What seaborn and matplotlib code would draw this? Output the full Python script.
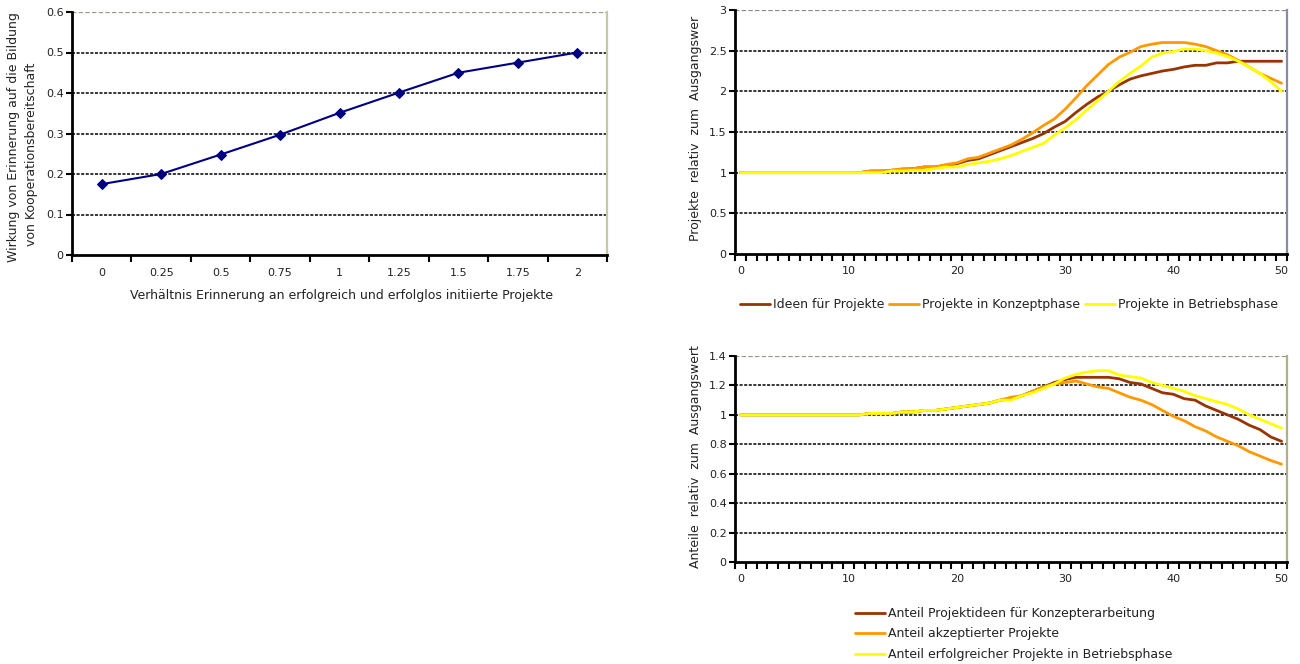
import numpy as np
import pandas as pd
import matplotlib
matplotlib.use("Agg")
import matplotlib.pyplot as plt
from matplotlib.ticker import FixedLocator, MultipleLocator
import seaborn as sns

# ---------------- data ----------------
ratio_labels = ["0", "0.25", "0.5", "0.75", "1", "1.25", "1.5", "1.75", "2"]
effect_values = [0.175, 0.200, 0.248, 0.297, 0.351, 0.401, 0.450, 0.475, 0.500]

time_steps = list(range(51))

ideen = [1.0] * 12 + [1.02, 1.02, 1.03, 1.04, 1.05, 1.07, 1.07, 1.09, 1.11, 1.15,
                      1.17, 1.22, 1.27, 1.32, 1.37, 1.42, 1.48, 1.56, 1.63, 1.74,
                      1.84, 1.93, 2.00, 2.08, 2.15, 2.19, 2.22, 2.25, 2.27, 2.30,
                      2.32, 2.32, 2.35, 2.35, 2.37, 2.37, 2.37, 2.37, 2.37]
konzept = [1.0] * 12 + [1.02, 1.02, 1.03, 1.05, 1.05, 1.07, 1.07, 1.10, 1.12, 1.17,
                        1.19, 1.24, 1.29, 1.34, 1.41, 1.49, 1.58, 1.66, 1.78, 1.92,
                        2.07, 2.20, 2.33, 2.42, 2.48, 2.55, 2.58, 2.60, 2.60, 2.60,
                        2.58, 2.55, 2.50, 2.45, 2.38, 2.30, 2.22, 2.16, 2.10]
betrieb = [1.0] * 14 + [1.02, 1.02, 1.03, 1.03, 1.05, 1.07, 1.07, 1.10, 1.12, 1.14,
                        1.17, 1.21, 1.26, 1.31, 1.36, 1.46, 1.55, 1.65, 1.77, 1.88,
                        2.00, 2.12, 2.22, 2.31, 2.42, 2.47, 2.49, 2.52, 2.52, 2.50,
                        2.47, 2.43, 2.37, 2.30, 2.22, 2.12, 2.00]

anteil_ideen = [1.0] * 12 + [1.01, 1.01, 1.01, 1.02, 1.02, 1.03, 1.03, 1.04, 1.05, 1.06,
                             1.07, 1.08, 1.10, 1.11, 1.13, 1.16, 1.19, 1.22, 1.24, 1.255,
                             1.255, 1.255, 1.255, 1.245, 1.22, 1.21, 1.18, 1.15, 1.14, 1.11,
                             1.10, 1.06, 1.03, 1.00, 0.97, 0.93, 0.90, 0.85, 0.82]
anteil_akzept = [1.0] * 12 + [1.01, 1.01, 1.01, 1.02, 1.02, 1.03, 1.03, 1.04, 1.05, 1.06,
                              1.07, 1.08, 1.10, 1.12, 1.13, 1.16, 1.19, 1.21, 1.22, 1.23,
                              1.21, 1.19, 1.18, 1.15, 1.12, 1.10, 1.07, 1.03, 0.99, 0.96,
                              0.92, 0.89, 0.85, 0.82, 0.79, 0.75, 0.72, 0.69, 0.665]
anteil_erfolg = [1.0] * 12 + [1.01, 1.01, 1.01, 1.02, 1.02, 1.03, 1.03, 1.04, 1.05, 1.06,
                              1.07, 1.08, 1.10, 1.10, 1.13, 1.15, 1.18, 1.21, 1.25, 1.275,
                              1.29, 1.30, 1.30, 1.27, 1.26, 1.25, 1.22, 1.20, 1.18, 1.16,
                              1.13, 1.11, 1.09, 1.07, 1.04, 1.00, 0.97, 0.94, 0.91]

series_top = ["Ideen für Projekte", "Projekte in Konzeptphase", "Projekte in Betriebsphase"]
series_bottom = ["Anteil Projektideen für Konzepterarbeitung", "Anteil akzeptierter Projekte",
                 "Anteil erfolgreicher Projekte in Betriebsphase"]
colors = ["#993300", "#FF9900", "#FFFF00"]

# ---------------- style ----------------
sns.set_theme(style="white")
plt.rcParams["font.family"] = ["DejaVu Sans"]
FS = 8      # tick labels
TFS = 9     # axis titles / legends
TXT = "#222222"

fig = plt.figure(figsize=(13, 6.64), dpi=100)
W, H = 1300, 664


def px_axes(l, t, r, b):
    return fig.add_axes([l / W, 1 - b / H, (r - l) / W, (b - t) / H])


def style_axes(ax, ymax, ystep, right_color, top_color, ncat):
    ax.set_ylim(0, ymax)
    ax.set_xlim(-0.5, ncat - 0.5)
    ax.yaxis.set_major_locator(MultipleLocator(ystep))
    for y in np.arange(ystep, ymax - ystep / 2, ystep):
        ax.axhline(y, color="black", lw=1.1, ls=(0, (2, 1)), zorder=0.5)
    ax.axhline(ymax, color=top_color, lw=1.6, ls=(0, (2, 1)), zorder=0.5)
    for s in ["left", "bottom"]:
        ax.spines[s].set_color("black")
        ax.spines[s].set_linewidth(2)
    ax.spines["top"].set_visible(False)
    ax.spines["right"].set_color(right_color)
    ax.spines["right"].set_linewidth(1.6)
    ax.xaxis.set_minor_locator(FixedLocator(np.arange(-0.5, ncat, 1.0)))
    ax.tick_params(axis="x", which="minor", length=5, width=1.5, color="black",
                   direction="out", bottom=True)
    ax.tick_params(axis="x", which="major", length=0, pad=9, labelsize=FS,
                   labelcolor=TXT)
    ax.tick_params(axis="y", which="major", length=4, width=1.5, color="black",
                   direction="out", left=True, pad=2, labelsize=FS, labelcolor=TXT)
    ax.set_xlabel("")
    ax.set_ylabel("")


# ---------------- chart 1 ----------------
ax1 = px_axes(72, 12, 607, 255)
df1 = pd.DataFrame({"pos": np.arange(len(ratio_labels)), "val": effect_values})
sns.lineplot(data=df1, x="pos", y="val", ax=ax1, color="#000080", lw=1.5,
             marker="D", markersize=5.5, markeredgecolor="#000080", zorder=3)
style_axes(ax1, 0.6, 0.1, "#c8c8a0", "#9a9a80", len(ratio_labels))
ax1.set_xticks(np.arange(len(ratio_labels)))
ax1.set_xticklabels(ratio_labels)
ax1.set_yticks(np.arange(0, 0.61, 0.1))
ax1.set_yticklabels(["0", "0.1", "0.2", "0.3", "0.4", "0.5", "0.6"])
fig.text(342 / W, 1 - 296 / H,
         "Verhältnis Erinnerung an erfolgreich und erfolglos initiierte Projekte",
         ha="center", va="center", fontsize=TFS, color=TXT)
fig.text(14 / W, 1 - 262 / H, "Wirkung von Erinnerung auf die Bildung",
         rotation=90, rotation_mode="anchor", ha="left", va="center",
         fontsize=TFS, color=TXT)
fig.text(31 / W, 1 - 246 / H, "von Kooperationsbereitschaft",
         rotation=90, rotation_mode="anchor", ha="left", va="center",
         fontsize=TFS, color=TXT)

# ---------------- chart 2 ----------------
ax2 = px_axes(735, 10, 1287, 254)
df2 = pd.DataFrame({"t": time_steps * 3,
                    "v": ideen + konzept + betrieb,
                    "s": sum([[n] * len(time_steps) for n in series_top], [])})
sns.lineplot(data=df2, x="t", y="v", hue="s", hue_order=series_top,
             palette=dict(zip(series_top, colors)), lw=2, ax=ax2, legend=False, zorder=3)
style_axes(ax2, 3, 0.5, "#8a8aa0", "#8a8a8a", len(time_steps))
ax2.set_xticks(np.arange(0, 51, 10))
ax2.set_xticklabels([str(v) for v in range(0, 51, 10)])
ax2.set_yticks(np.arange(0, 3.01, 0.5))
ax2.set_yticklabels(["0", "0.5", "1", "1.5", "2", "2.5", "3"])
fig.text(696 / W, 1 - 241 / H, "Projekte  relativ  zum  Ausgangswer",
         rotation=90, rotation_mode="anchor", ha="left", va="center",
         fontsize=TFS, color=TXT)
handles2 = [plt.Line2D([], [], color=c, lw=2) for c in colors]
fig.legend(handles2, series_top, loc="upper center",
           bbox_to_anchor=(1009 / W, 1 - 298 / H), ncol=3, frameon=False,
           fontsize=TFS, handlelength=2.4, handletextpad=0.25, columnspacing=0.4,
           borderpad=0, borderaxespad=0, labelcolor=TXT)

# ---------------- chart 3 ----------------
ax3 = px_axes(735, 356, 1287, 562)
df3 = pd.DataFrame({"t": time_steps * 3,
                    "v": anteil_ideen + anteil_akzept + anteil_erfolg,
                    "s": sum([[n] * len(time_steps) for n in series_bottom], [])})
sns.lineplot(data=df3, x="t", y="v", hue="s", hue_order=series_bottom,
             palette=dict(zip(series_bottom, colors)), lw=2, ax=ax3, legend=False, zorder=3)
style_axes(ax3, 1.4, 0.2, "#b0b080", "#9a9a80", len(time_steps))
ax3.set_xticks(np.arange(0, 51, 10))
ax3.set_xticklabels([str(v) for v in range(0, 51, 10)])
ax3.set_yticks(np.arange(0, 1.41, 0.2))
ax3.set_yticklabels(["0", "0.2", "0.4", "0.6", "0.8", "1", "1.2", "1.4"])
fig.text(696 / W, 1 - 568 / H, "Anteile  relativ  zum  Ausgangswert",
         rotation=90, rotation_mode="anchor", ha="left", va="center",
         fontsize=TFS, color=TXT)
handles3 = [plt.Line2D([], [], color=c, lw=2) for c in colors]
fig.legend(handles3, series_bottom, loc="upper left",
           bbox_to_anchor=(855 / W, 1 - 607 / H), ncol=1, frameon=False,
           fontsize=TFS, handlelength=2.4, handletextpad=0.25, labelspacing=0.6,
           borderpad=0, borderaxespad=0, labelcolor=TXT)

fig.savefig("out.png", dpi=100, facecolor="white")
